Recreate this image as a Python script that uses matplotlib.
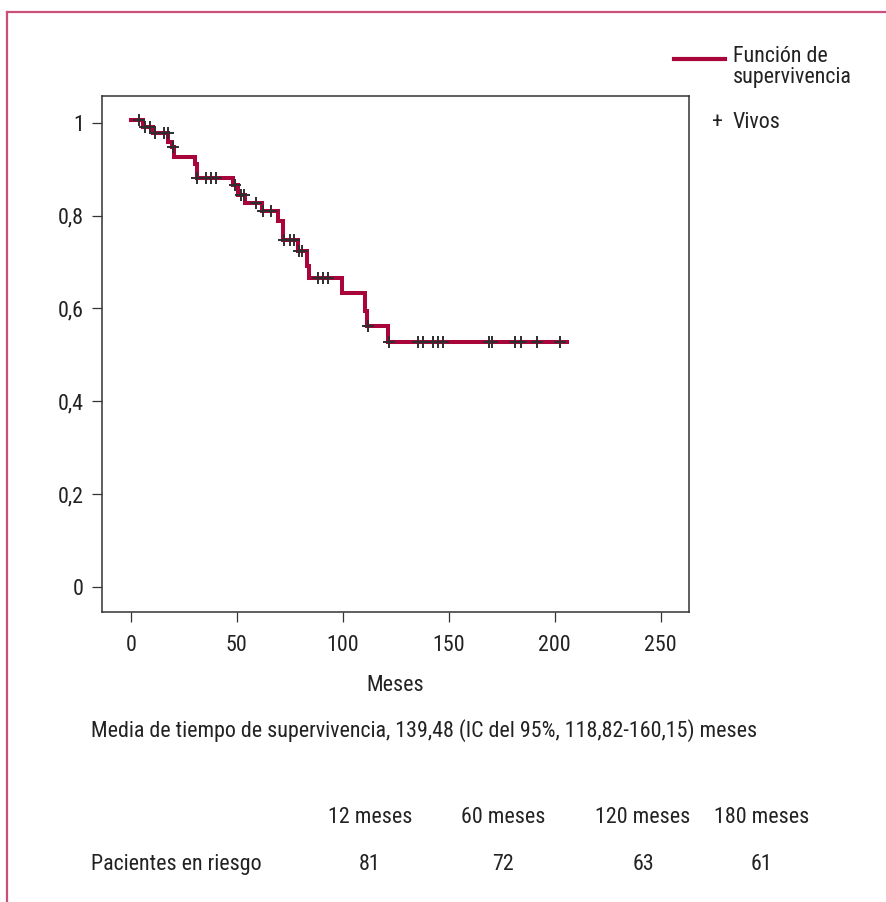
import numpy as np
import matplotlib
matplotlib.use("Agg")
import matplotlib.pyplot as plt
from matplotlib import font_manager
from matplotlib.lines import Line2D

# ---------------- data ----------------
step_times = [0, 5.9, 10.7, 17.7, 19.3, 20.3, 30.3, 31.1, 48.4, 50.8, 53.9, 61.8,
              69.6, 72.0, 79.0, 83.0, 84.2, 99.5, 110.5, 111.6, 121.5]
step_surv = [1.006, 0.990, 0.977, 0.959, 0.947, 0.927, 0.912, 0.880, 0.866, 0.844,
             0.828, 0.810, 0.789, 0.747, 0.724, 0.691, 0.665, 0.632, 0.595, 0.562, 0.527]
end_time = 205.7
censor_times = [4.1, 6.7, 9.1, 11.5, 15.5, 17.5, 19.8, 31.3, 35.5, 37.9, 40.1,
                49.0, 52.0, 53.2, 59.1, 62.3, 66.0, 72.5, 74.9, 77.2, 79.3, 80.9,
                88.5, 90.9, 93.2, 112.1, 122.0, 135.7, 137.8, 142.7, 145.0, 147.2,
                168.8, 170.5, 181.3, 183.9, 191.5, 202.3]
x_ticks = [0, 50, 100, 150, 200, 250]
y_ticks = [0, 0.2, 0.4, 0.6, 0.8, 1.0]
y_ticklabels = ["0", "0,2", "0,4", "0,6", "0,8", "1"]
legend_line1 = "Función de"
legend_line2 = "supervivencia"
legend_censor = "Vivos"
x_label = "Meses"
summary_text = "Media de tiempo de supervivencia, 139,48 (IC del 95%, 118,82-160,15) meses"
risk_headers = ["12 meses", "60 meses", "120 meses", "180 meses"]
risk_row_label = "Pacientes en riesgo"
risk_counts = ["81", "72", "63", "61"]

# ---------------- fonts ----------------
avail = {f.name for f in font_manager.fontManager.ttflist}
fam = "DejaVu Sans"
for cand in ["Liberation Sans Narrow", "Roboto Condensed", "Open Sans Condensed",
             "Noto Sans", "Liberation Sans"]:
    if cand in avail:
        fam = cand
        break
plt.rcParams["font.family"] = [fam, "DejaVu Sans"]

W, H = 886, 902
DPI = 100
fig = plt.figure(figsize=(W / DPI, H / DPI), dpi=DPI)

def fx(px):
    return px / W

def fy(py):
    return 1 - py / H

curve_col = "#a8063b"
text_col = "#222222"
FS = 15.8

# page border (left + top) in pink
fig.add_artist(Line2D([fx(6.7), fx(6.7)], [fy(12.3), fy(H + 5)], color="#c9507a",
                      lw=1.6, transform=fig.transFigure))
fig.add_artist(Line2D([fx(6.7), fx(W + 5)], [fy(12.3), fy(12.3)], color="#c9507a",
                      lw=1.6, transform=fig.transFigure))

left, right, top, bottom = 101.7, 688.7, 96.0, 612.3
ax = fig.add_axes([fx(left), fy(bottom), fx(right - left), (bottom - top) / H])

xs = list(step_times) + [end_time]
ys = list(step_surv) + [step_surv[-1]]
ax.step(xs, ys, where="post", color=curve_col, lw=2.9, solid_joinstyle="miter")

st = np.array(step_times)
sv = np.array(step_surv)
ct = np.array(censor_times)
idx = np.searchsorted(st, ct, side="right") - 1
ax.plot(ct, sv[idx], linestyle="none", marker="+", markersize=8.5,
        markeredgewidth=1.4, color="#2e2e2e", zorder=3)

ax.set_xlim(-13.7, 263.2)
ax.set_ylim(-0.055, 1.0575)
ax.set_xticks(x_ticks)
ax.set_xticklabels([str(v) for v in x_ticks])
ax.set_yticks(y_ticks)
ax.set_yticklabels(y_ticklabels)
ax.tick_params(axis="both", direction="out", length=7.2, width=0.9, colors="#333333",
               labelcolor=text_col, labelsize=FS)
ax.tick_params(axis="x", pad=9)
ax.tick_params(axis="y", pad=5.5)
for s in ax.spines.values():
    s.set_color("#333333")
    s.set_linewidth(1.1)

# x label
fig.text(fx(395), fy(691), x_label, ha="center", va="baseline", fontsize=FS, color=text_col)

# legend
fig.add_artist(Line2D([fx(674), fx(725)], [fy(58.5), fy(58.5)], color=curve_col, lw=3.0,
                      transform=fig.transFigure))
fig.text(fx(733), fy(62.5), legend_line1, ha="left", va="baseline", fontsize=FS, color=text_col)
fig.text(fx(733), fy(83), legend_line2, ha="left", va="baseline", fontsize=FS, color=text_col)
fig.text(fx(716.5), fy(128), "+", ha="center", va="baseline", fontsize=FS, color=text_col)
fig.text(fx(733), fy(128), legend_censor, ha="left", va="baseline", fontsize=FS,
         color=text_col)

# summary
fig.text(fx(91), fy(737), summary_text, ha="left", va="baseline", fontsize=FS, color=text_col)

# risk table
centers = [370, 503, 643, 762]
for c, h in zip(centers, risk_headers):
    fig.text(fx(c), fy(823), h, ha="center", va="baseline", fontsize=FS, color=text_col)
fig.text(fx(91), fy(870), risk_row_label, ha="left", va="baseline", fontsize=FS, color=text_col)
for c, n in zip(centers, risk_counts):
    fig.text(fx(c), fy(870), n, ha="center", va="baseline", fontsize=FS, color=text_col)

fig.savefig("out.png", dpi=DPI, facecolor="white")
